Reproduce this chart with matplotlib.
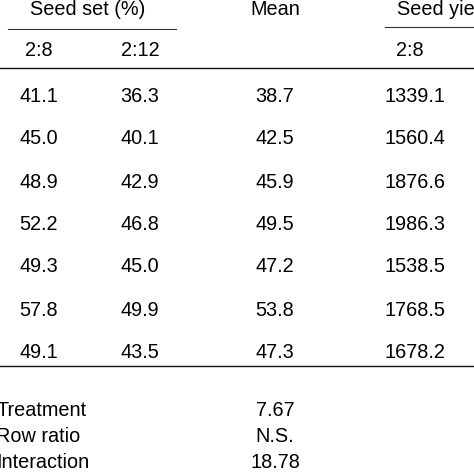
import matplotlib
matplotlib.use("Agg")
import matplotlib.pyplot as plt

plt.rcParams['font.family'] = ['Liberation Sans', 'DejaVu Sans']

seed_set_28 = ["41.1", "45.0", "48.9", "52.2", "49.3", "57.8", "49.1"]
seed_set_212 = ["36.3", "40.1", "42.9", "46.8", "45.0", "49.9", "43.5"]
mean_vals = ["38.7", "42.5", "45.9", "49.5", "47.2", "53.8", "47.3"]
seed_yield_28 = ["1339.1", "1560.4", "1876.6", "1986.3", "1538.5", "1768.5", "1678.2"]
stat_labels = ["Treatment", "Row ratio", "Interaction"]
stat_vals = ["7.67", "N.S.", "18.78"]

fig = plt.figure(figsize=(4.74, 4.74), dpi=100)
ax = fig.add_axes([0, 0, 1, 1])
ax.set_xlim(0, 474)
ax.set_ylim(474, 0)
ax.axis('off')

fs = 14.3
col_x = [39, 140, 275, 415]
row_y = [96, 139, 182, 224, 267, 310, 353]

# Headers
ax.text(88, 9, "Seed set (%)", ha='center', va='center', fontsize=fs)
ax.text(275, 9, "Mean", ha='center', va='center', fontsize=fs)
ax.text(397, 9, "Seed yield", ha='left', va='center', fontsize=fs)
ax.plot([8, 176], [29, 29], color='#333333', lw=0.8)
ax.plot([385, 474], [27, 27], color='#333333', lw=0.8)
ax.text(col_x[0], 50, "2:8", ha='center', va='center', fontsize=fs)
ax.text(col_x[1], 50, "2:12", ha='center', va='center', fontsize=fs)
ax.text(col_x[3] - 5, 50, "2:8", ha='center', va='center', fontsize=fs)
ax.plot([0, 474], [68, 68], color='#111111', lw=1.0)

for i, y in enumerate(row_y):
    ax.text(col_x[0], y, seed_set_28[i], ha='center', va='center', fontsize=fs)
    ax.text(col_x[1], y, seed_set_212[i], ha='center', va='center', fontsize=fs)
    ax.text(col_x[2], y, mean_vals[i], ha='center', va='center', fontsize=fs)
    ax.text(col_x[3], y, seed_yield_28[i], ha='center', va='center', fontsize=fs)

ax.plot([0, 474], [366, 366], color='#111111', lw=1.0)

stat_y = [411, 437, 463]
for lab, val, y in zip(stat_labels, stat_vals, stat_y):
    ax.text(-4, y, lab, ha='left', va='center', fontsize=fs)
    ax.text(col_x[2], y, val, ha='center', va='center', fontsize=fs)

fig.savefig("out.png", dpi=100, facecolor='white')
